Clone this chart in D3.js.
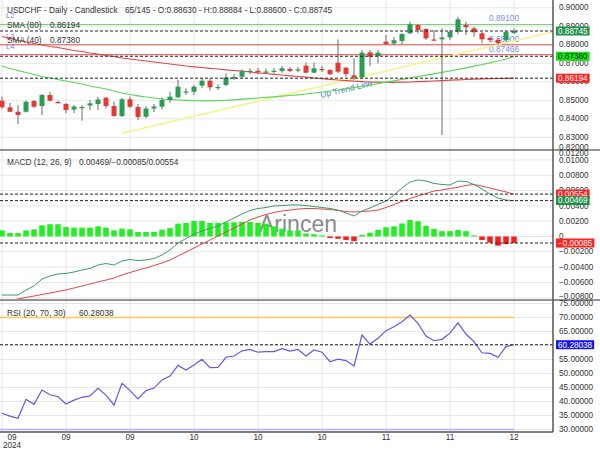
<!DOCTYPE html>
<html>
<head>
<meta charset="utf-8">
<script src="https://cdn.jsdelivr.net/npm/d3@7"></script>
<style>
body { margin: 0; background: #fff; }
svg { display: block; font-family: "Liberation Sans", Arial, sans-serif; }
</style>
</head>
<body>
<div id="chart"></div>
<script>
// chart values
var tickIndex = [0, 8, 16, 24, 32, 40, 48, 56, 64];
var tickLabels = ["09", "09", "09", "10", "10", "10", "11", "11", "12"];
var yearLabel = "2024";
var barCount = 65, totalBars = 145;

var open = [0.84977, 0.84620, 0.84382, 0.84382, 0.84961, 0.84690, 0.85286, 0.84907, 0.84799, 0.84501,
    0.84593, 0.84717, 0.84799, 0.85139, 0.84690, 0.84149, 0.85053, 0.84636, 0.84112, 0.84555,
    0.84653, 0.85015, 0.85161, 0.85437, 0.85464, 0.85789, 0.86059, 0.85692, 0.85827, 0.86232,
    0.86276, 0.86568, 0.86595, 0.86530, 0.86568, 0.86584, 0.86692, 0.86638, 0.86871, 0.86492,
    0.86692, 0.86638, 0.87033, 0.86762, 0.86351, 0.86243, 0.87595, 0.87395, 0.88167, 0.88069,
    0.88205, 0.88621, 0.89069, 0.88853, 0.88286, 0.88296, 0.88404, 0.88707, 0.89069, 0.88891,
    0.88621, 0.88367, 0.88259, 0.88259, 0.88630];
var high = [0.85194, 0.84869, 0.84745, 0.84988, 0.85015, 0.85340, 0.85464, 0.84988, 0.84853, 0.84745,
    0.84745, 0.85015, 0.85194, 0.85194, 0.84923, 0.85123, 0.85194, 0.84799, 0.84690, 0.84799,
    0.85161, 0.85464, 0.86097, 0.85648, 0.85827, 0.86189, 0.86189, 0.85864, 0.86459, 0.86405,
    0.86676, 0.86730, 0.86746, 0.86719, 0.86746, 0.86854, 0.86800, 0.86800, 0.87033, 0.87033,
    0.86854, 0.86676, 0.88296, 0.86800, 0.87271, 0.87720, 0.87720, 0.87720, 0.88529, 0.88421,
    0.88621, 0.89248, 0.89107, 0.88891, 0.88799, 0.88891, 0.88799, 0.89519, 0.89248, 0.88978,
    0.88708, 0.88421, 0.88350, 0.88637, 0.88884];
var low = [0.84555, 0.84366, 0.83717, 0.84339, 0.84582, 0.84204, 0.84934, 0.84826, 0.84312, 0.84312,
    0.83895, 0.84474, 0.84474, 0.84566, 0.84112, 0.84095, 0.84582, 0.83933, 0.84025, 0.84366,
    0.84512, 0.84869, 0.85107, 0.85286, 0.85286, 0.85648, 0.85529, 0.85556, 0.85772, 0.86097,
    0.86189, 0.86422, 0.86422, 0.86422, 0.86449, 0.86492, 0.86530, 0.86530, 0.86459, 0.86459,
    0.86530, 0.86368, 0.86459, 0.86276, 0.86097, 0.86189, 0.86854, 0.86995, 0.87988, 0.87988,
    0.88026, 0.88566, 0.88621, 0.88259, 0.88232, 0.83123, 0.88259, 0.88566, 0.88529, 0.88437,
    0.88080, 0.88151, 0.87988, 0.88167, 0.88600];
var close = [0.84620, 0.84382, 0.84204, 0.84923, 0.84653, 0.85286, 0.84977, 0.84880, 0.84474, 0.84663,
    0.84636, 0.84836, 0.85042, 0.84690, 0.84149, 0.85053, 0.84653, 0.84095, 0.84555, 0.84663,
    0.85015, 0.85194, 0.85735, 0.85475, 0.85735, 0.86059, 0.85702, 0.85719, 0.86232, 0.86259,
    0.86568, 0.86595, 0.86557, 0.86557, 0.86595, 0.86730, 0.86584, 0.86665, 0.86492, 0.86730,
    0.86665, 0.86405, 0.86546, 0.86422, 0.86222, 0.87574, 0.87357, 0.87574, 0.88042, 0.88247,
    0.88583, 0.89107, 0.88799, 0.88350, 0.88259, 0.88394, 0.88707, 0.89378, 0.88945, 0.88675,
    0.88296, 0.88259, 0.88080, 0.88707, 0.88745];

var sma80 = [0.88448, 0.88340, 0.88232, 0.88151, 0.88070, 0.87989, 0.87907, 0.87853, 0.87772, 0.87691,
    0.87637, 0.87556, 0.87502, 0.87421, 0.87367, 0.87286, 0.87232, 0.87178, 0.87124, 0.87070,
    0.87016, 0.86962, 0.86908, 0.86853, 0.86810, 0.86772, 0.86729, 0.86691, 0.86648, 0.86610,
    0.86572, 0.86529, 0.86486, 0.86448, 0.86405, 0.86367, 0.86324, 0.86286, 0.86248, 0.86205,
    0.86167, 0.86134, 0.86097, 0.86064, 0.86032, 0.86010, 0.85989, 0.85978, 0.85972, 0.85972,
    0.85978, 0.85989, 0.86005, 0.86021, 0.86043, 0.86064, 0.86086, 0.86107, 0.86124, 0.86140,
    0.86156, 0.86167, 0.86178, 0.86183, 0.86194];
var sma40 = [0.86853, 0.86718, 0.86610, 0.86502, 0.86394, 0.86286, 0.86205, 0.86124, 0.86043, 0.85961,
    0.85880, 0.85772, 0.85691, 0.85610, 0.85502, 0.85394, 0.85313, 0.85243, 0.85178, 0.85124,
    0.85070, 0.85037, 0.85016, 0.84994, 0.84978, 0.84972, 0.84972, 0.84983, 0.84999, 0.85026,
    0.85059, 0.85091, 0.85124, 0.85156, 0.85189, 0.85221, 0.85259, 0.85297, 0.85340, 0.85394,
    0.85448, 0.85502, 0.85556, 0.85621, 0.85686, 0.85756, 0.85826, 0.85902, 0.85978, 0.86053,
    0.86129, 0.86205, 0.86280, 0.86356, 0.86432, 0.86507, 0.86583, 0.86670, 0.86756, 0.86843,
    0.86934, 0.87026, 0.87124, 0.87232, 0.87380];

var macdLine = [-0.00765, -0.00765, -0.00765, -0.00699, -0.00647, -0.00556, -0.00516, -0.00490, -0.00484, -0.00464,
    -0.00438, -0.00418, -0.00373, -0.00353, -0.00373, -0.00320, -0.00301, -0.00314, -0.00307, -0.00288,
    -0.00242, -0.00176, -0.00085, -0.00026, 0.00033, 0.00072, 0.00105, 0.00137, 0.00190, 0.00242,
    0.00294, 0.00340, 0.00366, 0.00379, 0.00399, 0.00405, 0.00412, 0.00412, 0.00405, 0.00392,
    0.00379, 0.00366, 0.00346, 0.00307, 0.00268, 0.00333, 0.00373, 0.00418, 0.00464, 0.00542,
    0.00634, 0.00712, 0.00739, 0.00725, 0.00693, 0.00680, 0.00673, 0.00725, 0.00719, 0.00680,
    0.00621, 0.00556, 0.00503, 0.00477, 0.00469];
var signalLine = [-0.00856, -0.00837, -0.00817, -0.00797, -0.00778, -0.00758, -0.00739, -0.00719, -0.00699, -0.00673,
    -0.00647, -0.00621, -0.00595, -0.00569, -0.00542, -0.00503, -0.00471, -0.00438, -0.00412, -0.00379,
    -0.00346, -0.00307, -0.00255, -0.00203, -0.00150, -0.00098, -0.00046, 0.00007, 0.00059, 0.00111,
    0.00163, 0.00216, 0.00255, 0.00288, 0.00314, 0.00333, 0.00346, 0.00359, 0.00366, 0.00366,
    0.00359, 0.00353, 0.00340, 0.00327, 0.00320, 0.00327, 0.00333, 0.00346, 0.00379, 0.00418,
    0.00458, 0.00497, 0.00529, 0.00562, 0.00595, 0.00608, 0.00627, 0.00643, 0.00667, 0.00680,
    0.00660, 0.00634, 0.00608, 0.00582, 0.00554];
var macdHist = [0.00081, 0.00046, 0.00046, 0.00080, 0.00094, 0.00146, 0.00160, 0.00160, 0.00124, 0.00116,
    0.00116, 0.00116, 0.00133, 0.00116, 0.00080, 0.00103, 0.00094, 0.00059, 0.00059, 0.00059,
    0.00090, 0.00110, 0.00168, 0.00177, 0.00203, 0.00203, 0.00177, 0.00177, 0.00185, 0.00185,
    0.00190, 0.00190, 0.00177, 0.00168, 0.00133, 0.00103, 0.00080, 0.00080, 0.00040, 0.00030,
    0.00015, -0.00020, -0.00030, -0.00045, -0.00060, 0.00020, 0.00050, 0.00088, 0.00120, 0.00133,
    0.00170, 0.00215, 0.00200, 0.00140, 0.00098, 0.00070, 0.00070, 0.00085, 0.00070, 0.00015,
    -0.00045, -0.00080, -0.00120, -0.00100, -0.00085];

var rsi = [35.8, 34.8, 34.0, 40.8, 39.0, 44.1, 42.4, 41.7, 39.1, 40.5,
    41.5, 42.0, 44.7, 42.3, 38.75, 46.5, 43.9, 40.9, 43.9, 44.8,
    47.7, 49.1, 52.9, 51.25, 53.0, 55.1, 52.1, 52.2, 55.8, 56.25,
    58.1, 58.6, 57.6, 57.8, 57.8, 58.9, 58.0, 58.6, 56.25, 58.4,
    57.6, 54.2, 55.1, 54.6, 52.7, 63.75, 60.5, 62.6, 65.3, 66.7,
    68.5, 70.9, 67.9, 63.4, 61.7, 62.2, 64.4, 68.1, 64.1, 61.4,
    57.4, 57.2, 55.8, 59.6, 60.28038];

var levels = [0.89100, 0.88000, 0.87466];
var levelNames = ["L2", "L3", "L4"];
var trendIndex = [15, 69];
var trendValue = [0.83221, 0.88721];
var rsiBands = [70, 30];

var priceTicks = [0.82, 0.83, 0.84, 0.85, 0.86, 0.87, 0.88, 0.89, 0.90];
var macdTicks = [-0.008, -0.006, -0.004, -0.002, 0, 0.002, 0.004, 0.006, 0.008, 0.010, 0.012];
var rsiTicks = [30, 35, 40, 45, 50, 55, 60, 65, 70, 75];

// layout and styles
var width = 600;
var height = 450;
var plotRight = 553;
var up_color = "#2a9d55";
var down_color = "#e53935";
var wick_color = "#6b6b6b";
var grid_color = "#e6e6e6";
var levelColors = ["#66d466", "#e05050", "#e05050"];
var rsiBandColors = ["#ffc85a", "#b7aaff"];
var f5 = d3.format(".5f");

var svg = d3.select("#chart").append("svg")
    .attr("width", width)
    .attr("height", height);

var x = d3.scaleLinear().domain([0, 64]).range([2, 514]);
var yPrice = d3.scaleLinear().domain([0.82313, 0.90421]).range([150, 0]);
var yMacd = d3.scaleLinear().domain([-0.00817, 0.011307]).range([299, 150]);
var yRsi = d3.scaleLinear().domain([29.107, 76.25]).range([432, 300]);

// clip rects per panel
var defs = svg.append("defs");
function addClip(id, top, bottom) {
    defs.append("clipPath").attr("id", id)
        .append("rect").attr("x", 0).attr("y", top)
        .attr("width", plotRight).attr("height", bottom - top);
}
addClip("clipPrice", 0, 150);
addClip("clipMacd", 150, 299);
addClip("clipRsi", 300, 432);

// vertical grid
svg.append("g").selectAll("line")
    .data(tickIndex).enter().append("line")
    .attr("x1", function(d) { return x(d); })
    .attr("x2", function(d) { return x(d); })
    .attr("y1", 0).attr("y2", 432)
    .attr("stroke", grid_color);

// horizontal grids
function hGrid(scale, ticks, top, bottom) {
    svg.append("g").selectAll("line")
        .data(ticks.filter(function(d) { var p = scale(d); return p > top && p < bottom; }))
        .enter().append("line")
        .attr("x1", 0).attr("x2", plotRight)
        .attr("y1", function(d) { return scale(d); })
        .attr("y2", function(d) { return scale(d); })
        .attr("stroke", grid_color);
}
hGrid(yPrice, priceTicks, 0, 150);
hGrid(yMacd, macdTicks, 150, 299);
hGrid(yRsi, rsiTicks, 300, 432);

function dashed(yPos) {
    svg.append("line")
        .attr("x1", 0).attr("x2", plotRight)
        .attr("y1", yPos).attr("y2", yPos)
        .attr("stroke", "#222")
        .attr("stroke-dasharray", "3,2");
}

// ---- price panel ----
var price = svg.append("g").attr("clip-path", "url(#clipPrice)");

// level lines L2..L4
levels.forEach(function(v, i) {
    price.append("line")
        .attr("x1", 0).attr("x2", plotRight)
        .attr("y1", yPrice(v)).attr("y2", yPrice(v))
        .attr("stroke", levelColors[i]);
    price.append("text")
        .attr("x", 6).attr("y", yPrice(v) - 6)
        .attr("font-size", 7.5).attr("fill", "#7a78e8")
        .text(levelNames[i]);
    price.append("text")
        .attr("x", 489).attr("y", yPrice(v) - 3)
        .attr("font-size", 8.3).attr("fill", "#7b8cf0")
        .text(f5(v));
});

// trend line
price.append("line")
    .attr("x1", x(trendIndex[0])).attr("y1", yPrice(trendValue[0]))
    .attr("x2", x(trendIndex[1])).attr("y2", yPrice(trendValue[1]))
    .attr("stroke", "#f4f48c")
    .attr("stroke-width", 1.5);
var trendAngle = Math.atan2(yPrice(trendValue[1]) - yPrice(trendValue[0]),
    x(trendIndex[1]) - x(trendIndex[0])) * 180 / Math.PI;
price.append("text")
    .attr("transform", "translate(321,98) rotate(" + trendAngle + ")")
    .attr("font-size", 8.5).attr("fill", "#4f7fd6")
    .text("Up Trend Line");

var priceLine = function(values) {
    return d3.line()
        .x(function(d, i) { return x(i); })
        .y(function(d) { return yPrice(d); })(values);
};
price.append("path").attr("d", priceLine(sma80))
    .attr("fill", "none").attr("stroke", "#e04848").attr("stroke-width", 1.2);
price.append("path").attr("d", priceLine(sma40))
    .attr("fill", "none").attr("stroke", "#5cd65c").attr("stroke-width", 1.2);

dashed(yPrice(close[64]));
dashed(yPrice(sma40[64]));
dashed(yPrice(sma80[64]));

// candles
var idx = d3.range(open.length);
var candles = price.append("g").selectAll("g")
    .data(idx).enter().append("g");
candles.append("line")
    .attr("x1", function(i) { return x(i); })
    .attr("x2", function(i) { return x(i); })
    .attr("y1", function(i) { return yPrice(high[i]); })
    .attr("y2", function(i) { return yPrice(low[i]); })
    .attr("stroke", wick_color);
candles.append("rect")
    .attr("x", function(i) { return x(i) - 2.5; })
    .attr("width", 5)
    .attr("y", function(i) { return yPrice(Math.max(open[i], close[i])); })
    .attr("height", function(i) {
        return Math.max(1.2, Math.abs(yPrice(open[i]) - yPrice(close[i])));
    })
    .attr("fill", function(i) { return close[i] >= open[i] ? up_color : down_color; });

// ---- MACD panel ----
var macd = svg.append("g").attr("clip-path", "url(#clipMacd)");
macd.append("text")
    .attr("x", 259).attr("y", 232)
    .attr("font-size", 23).attr("fill", "#6f6f6f").attr("opacity", 0.8)
    .text("Arincen");
macd.selectAll("rect")
    .data(idx).enter().append("rect")
    .attr("x", function(i) { return x(i) - 2.75; })
    .attr("width", 5.5)
    .attr("y", function(i) { return yMacd(Math.max(0, macdHist[i])); })
    .attr("height", function(i) { return Math.abs(yMacd(macdHist[i]) - yMacd(0)); })
    .attr("fill", function(i) { return macdHist[i] >= 0 ? "#1ff01f" : "#ff1a1a"; });
var macdPath = function(values) {
    return d3.line()
        .x(function(d, i) { return x(i); })
        .y(function(d) { return yMacd(d); })(values);
};
macd.append("path").attr("d", macdPath(signalLine))
    .attr("fill", "none").attr("stroke", "#e04848").attr("stroke-width", 1);
macd.append("path").attr("d", macdPath(macdLine))
    .attr("fill", "none").attr("stroke", "#3c9c64").attr("stroke-width", 1);
dashed(yMacd(signalLine[64]));
dashed(yMacd(macdLine[64]));
dashed(yMacd(macdHist[64]));

// ---- RSI panel ----
var rsiG = svg.append("g").attr("clip-path", "url(#clipRsi)");
rsiBands.forEach(function(v, i) {
    rsiG.append("line")
        .attr("x1", 0).attr("x2", x(64))
        .attr("y1", yRsi(v)).attr("y2", yRsi(v))
        .attr("stroke", rsiBandColors[i]).attr("stroke-width", 1.5);
});
dashed(yRsi(rsi[64]));
rsiG.append("path")
    .attr("d", d3.line()
        .x(function(d, i) { return x(i); })
        .y(function(d) { return yRsi(d); })(rsi))
    .attr("fill", "none").attr("stroke", "#6658dc").attr("stroke-width", 1.2);

// ---- panel frame ----
svg.append("line").attr("x1", 0).attr("x2", width).attr("y1", 150).attr("y2", 150)
    .attr("stroke", "#6e6e6e").attr("stroke-width", 1.5);
svg.append("line").attr("x1", 0).attr("x2", width).attr("y1", 300).attr("y2", 300)
    .attr("stroke", "#6e6e6e").attr("stroke-width", 1.5);
svg.append("line").attr("x1", plotRight).attr("x2", plotRight).attr("y1", 0).attr("y2", 432)
    .attr("stroke", "#555").attr("stroke-width", 1.5);
svg.append("line").attr("x1", 0).attr("x2", plotRight).attr("y1", 432).attr("y2", 432)
    .attr("stroke", "#555").attr("stroke-width", 1.5);

// ---- right axes ----
function drawYAxis(scale, ticks, fmt, top, bottom) {
    var g = svg.append("g")
        .attr("transform", "translate(" + plotRight + ",0)")
        .call(d3.axisRight(scale).tickValues(ticks).tickSize(0).tickPadding(6).tickFormat(fmt));
    g.select(".domain").remove();
    g.attr("font-size", 8.2).attr("font-family", null);
    g.selectAll(".tick").attr("transform", function(d) {
        var p = Math.max(top + 3, Math.min(bottom - 3, scale(d)));
        return "translate(0," + p + ")";
    });
    g.selectAll("text").attr("fill", "#333");
}
drawYAxis(yPrice, priceTicks, f5, 0, 150);
drawYAxis(yMacd, macdTicks, function(d) { return Math.abs(d) < 1e-9 ? "0" : f5(d); }, 150, 299);
drawYAxis(yRsi, rsiTicks, f5, 300, 432);

// coloured last-value boxes on the axis
function valueBox(yPos, label, fill, color) {
    var g = svg.append("g").attr("transform", "translate(556," + yPos + ")");
    var t = g.append("text")
        .attr("x", 2).attr("dy", "0.35em")
        .attr("font-size", 8.2).attr("fill", color)
        .text(label);
    var w = t.node().getComputedTextLength();
    g.insert("rect", "text")
        .attr("x", 0).attr("y", -4.5)
        .attr("width", w + 4).attr("height", 9)
        .attr("fill", fill);
}
valueBox(yPrice(close[64]), f5(close[64]), "#23914a", "#fff");
valueBox(yPrice(sma40[64]), f5(sma40[64]), "#12e612", "#222");
valueBox(yPrice(sma80[64]), f5(sma80[64]), "#ff2020", "#fff");
valueBox(yMacd(signalLine[64]), f5(signalLine[64]), "#ff2020", "#fff");
valueBox(yMacd(macdLine[64]), f5(macdLine[64]), "#23914a", "#fff");
valueBox(yMacd(macdHist[64]), f5(macdHist[64]), "#ff2020", "#fff");
valueBox(yRsi(rsi[64]), f5(rsi[64]), "#1414f0", "#fff");

// ---- x axis labels ----
svg.append("g").selectAll("text")
    .data(tickIndex).enter().append("text")
    .attr("x", function(d) { return d === 0 ? 12 : x(d); })
    .attr("y", 439.5)
    .attr("text-anchor", "middle")
    .attr("font-size", 8.2).attr("fill", "#333")
    .text(function(d, i) { return tickLabels[i]; });
svg.append("text")
    .attr("x", 12).attr("y", 447.5)
    .attr("text-anchor", "middle")
    .attr("font-size", 8.2).attr("fill", "#333")
    .text(yearLabel);

// ---- legends ----
function legend(xPos, yPos, label) {
    svg.append("text")
        .attr("x", xPos).attr("y", yPos)
        .attr("font-size", 8.3).attr("fill", "#333")
        .text(label);
}
var last = open.length - 1;
legend(7, 13, "USDCHF - Daily - Candlestick");
legend(125, 13, barCount + "/" + totalBars + " - O:" + f5(open[last]) + " - H:" + f5(high[last]) +
    " - L:" + f5(low[last]) + " - C:" + f5(close[last]));
legend(7, 27.5, "SMA (80)");
legend(50, 27.5, f5(sma80[last]));
legend(7, 43, "SMA (40)");
legend(50, 43, f5(sma40[last]));
legend(7, 164.5, "MACD (12, 26, 9)");
legend(79, 164.5, f5(macdLine[last]) + "/" + f5(macdHist[last]) + "/" + f5(signalLine[last]));
legend(7, 315.5, "RSI (20, 70, 30)");
legend(79, 315.5, f5(rsi[last]));
</script>
</body>
</html>
